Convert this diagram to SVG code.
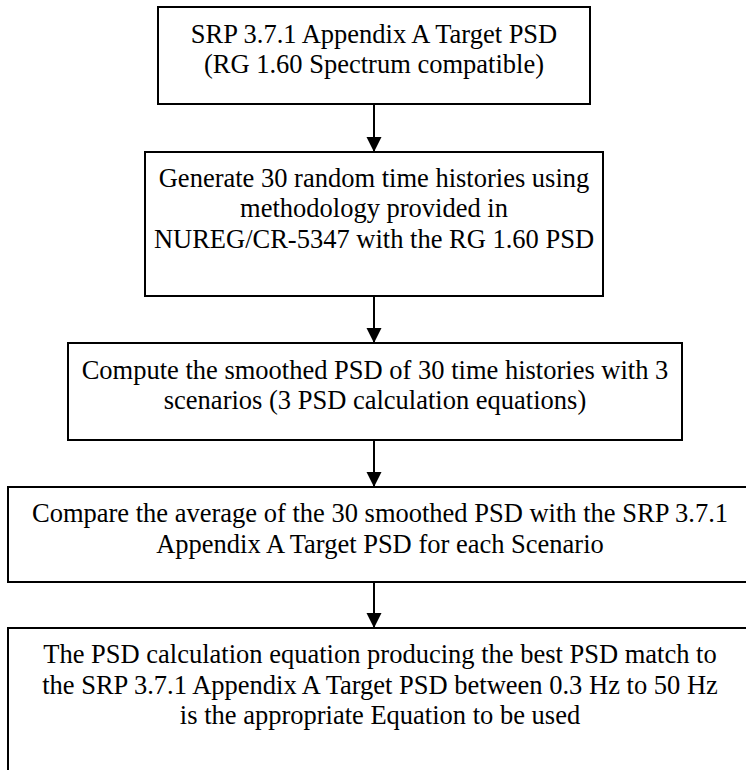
<svg xmlns="http://www.w3.org/2000/svg" width="746" height="770" viewBox="0 0 746 770">
<defs>
<marker id="ah" markerWidth="16" markerHeight="16" refX="15" refY="7.5" orient="auto" markerUnits="userSpaceOnUse" viewBox="0 0 16 16">
<path d="M0,0 L15,7.5 L0,15 Z" fill="#000"/>
</marker>
</defs>
<style>
.box{fill:#fff;stroke:#000;stroke-width:2}
.t{font-family:"Liberation Serif","Times New Roman",serif;font-size:26.5px;fill:#000;text-anchor:middle}
.c{stroke:#000;stroke-width:2;fill:none}
</style>
<rect width="746" height="770" fill="#fff"/>
<g id="n1">
<rect class="box" x="158" y="7" width="432" height="97"/>
<text class="t" x="374" y="43">SRP 3.7.1 Appendix A Target PSD</text>
<text class="t" x="374" y="73">(RG 1.60 Spectrum compatible)</text>
</g>
<g id="n2">
<rect class="box" x="145" y="152" width="458" height="144"/>
<text class="t" x="374" y="187">Generate 30 random time histories using</text>
<text class="t" x="374" y="217">methodology provided in</text>
<text class="t" x="374" y="248">NUREG/CR-5347 with the RG 1.60 PSD</text>
</g>
<g id="n3">
<rect class="box" x="68" y="343" width="614" height="97"/>
<text class="t" x="375" y="379">Compute the smoothed PSD of 30 time histories with 3</text>
<text class="t" x="375" y="409">scenarios (3 PSD calculation equations)</text>
</g>
<g id="n4">
<rect class="box" x="8" y="487" width="750" height="95"/>
<text class="t" x="380" y="522">Compare the average of the 30 smoothed PSD with the SRP 3.7.1</text>
<text class="t" x="380" y="553">Appendix A Target PSD for each Scenario</text>
</g>
<g id="n5">
<rect class="box" x="8" y="628" width="750" height="160"/>
<text class="t" x="380" y="663">The PSD calculation equation producing the best PSD match to</text>
<text class="t" x="380" y="694">the SRP 3.7.1 Appendix A Target PSD between 0.3 Hz to 50 Hz</text>
<text class="t" x="380" y="724">is the appropriate Equation to be used</text>
</g>
<g id="connectors">
<line class="c" x1="374" y1="104" x2="374" y2="152" marker-end="url(#ah)"/>
<line class="c" x1="374" y1="296" x2="374" y2="343" marker-end="url(#ah)"/>
<line class="c" x1="374" y1="440" x2="374" y2="487" marker-end="url(#ah)"/>
<line class="c" x1="374" y1="582" x2="374" y2="628" marker-end="url(#ah)"/>
</g>
</svg>
